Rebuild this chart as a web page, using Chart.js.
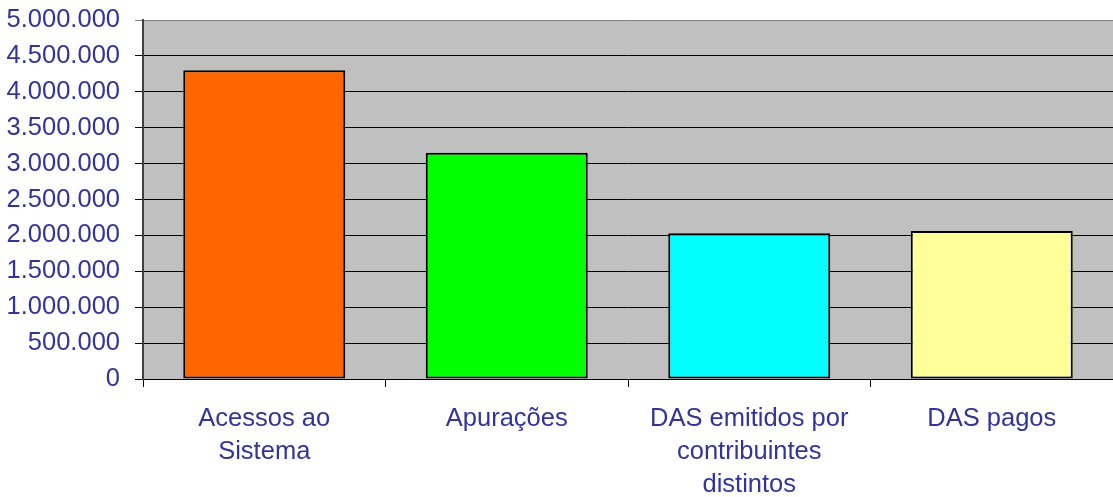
<!DOCTYPE html>
<html>
<head>
<meta charset="utf-8">
<script src="https://cdn.jsdelivr.net/npm/chart.js@4"></script>
<style>
  html, body { margin: 0; padding: 0; background: #fff; }
  #wrap { width: 1113px; height: 497px; position: relative; }
</style>
</head>
<body>
<div id="wrap"><canvas id="chart"></canvas></div>
<script>
// Categories and values
const categories = [
    ['Acessos ao', 'Sistema'],
    'Apurações',
    ['DAS emitidos por', 'contribuintes', 'distintos'],
    'DAS pagos'
];
const values = [4300000, 3150000, 2030000, 2060000];
const barColors = ['#FF6600', '#00FF00', '#00FFFF', '#FFFF99'];
const yTicks = [0, 500000, 1000000, 1500000, 2000000, 2500000, 3000000, 3500000, 4000000, 4500000, 5000000];

const textColor = '#333399';
const labelFont = { family: '"Liberation Sans", Arial, sans-serif', size: 25.5, lineHeight: 1.3 };

// grey plot area like the spreadsheet original
const plotBackground = {
    id: 'plotBackground',
    beforeDraw(chart) {
        const a = chart.chartArea;
        const c = chart.ctx;
        c.save();
        c.fillStyle = '#C0C0C0';
        c.fillRect(a.left, a.top, a.right - a.left, a.bottom - a.top);
        c.restore();
    }
};

function formatNumber(v) {
    return v.toString().replace(/\B(?=(\d{3})+(?!\d))/g, '.');
}

new Chart(document.getElementById('chart'), {
    type: 'bar',
    data: {
        labels: categories,
        datasets: [{
            data: values,
            backgroundColor: barColors,
            borderColor: '#000',
            borderWidth: 2,
            borderSkipped: false,
            barPercentage: 0.668,
            categoryPercentage: 1
        }]
    },
    options: {
        responsive: true,
        maintainAspectRatio: false,
        animation: false,
        layout: { padding: { top: 20, right: 0, left: 0, bottom: 0 } },
        plugins: {
            legend: { display: false },
            tooltip: { enabled: false }
        },
        scales: {
            x: {
                grid: {
                    drawOnChartArea: false,
                    drawTicks: true,
                    tickLength: 8,
                    color: '#000'
                },
                border: { color: '#000', width: 1 },
                ticks: {
                    color: textColor,
                    padding: 15,
                    maxRotation: 0,
                    font: labelFont
                },
                afterFit(scale) {
                    scale.height = 118;
                    scale.paddingLeft = 0;
                    scale.paddingRight = 0;
                }
            },
            y: {
                min: 0,
                max: 5000000,
                afterBuildTicks(scale) {
                    scale.ticks = yTicks.map(v => ({ value: v }));
                },
                grid: {
                    color: ctx => (ctx.tick && ctx.tick.value === 5000000) ? '#808080' : '#000',
                    lineWidth: 1,
                    tickLength: 8
                },
                border: { color: '#404040', width: 2 },
                ticks: {
                    color: textColor,
                    padding: 15,
                    font: { family: labelFont.family, size: 25.5, lineHeight: 1.0 },
                    callback: function(value) { return formatNumber(value); }
                },
                afterFit(scale) {
                    scale.width = 143;
                    scale.paddingTop = 0;
                    scale.paddingBottom = 0;
                }
            }
        }
    },
    plugins: [plotBackground]
});
</script>
</body>
</html>
